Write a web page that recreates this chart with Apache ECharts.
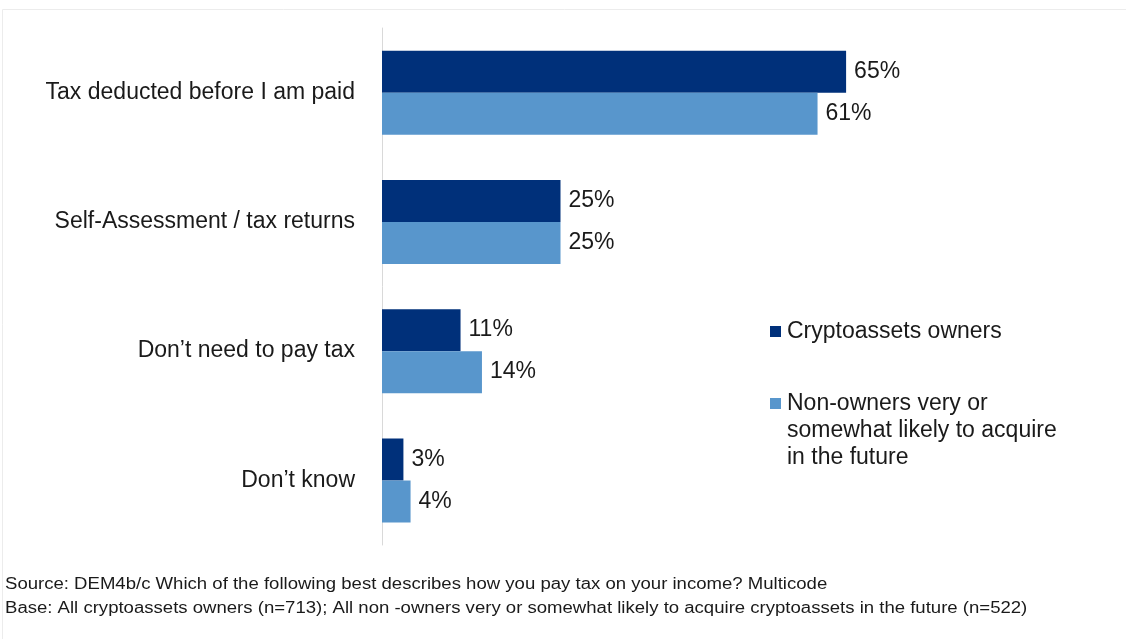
<!DOCTYPE html>
<html>
<head>
<meta charset="utf-8">
<script src="https://cdn.jsdelivr.net/npm/echarts@6/dist/echarts.min.js"></script>
<style>
  html, body { margin: 0; padding: 0; background: #ffffff; }
  #chart { width: 1126px; height: 639px; }
</style>
</head>
<body>
<div id="chart"></div>
<script>
// How people pay tax on their income
const categories = [
  'Tax deducted before I am paid',
  'Self-Assessment / tax returns',
  'Don\u2019t need to pay tax',
  'Don\u2019t know'
];
const ownersName = 'Cryptoassets owners';
const nonOwnersName = 'Non-owners very or somewhat likely to acquire in the future';
const ownersValues = [65, 25, 11, 3];
const nonOwnersValues = [61, 25, 14, 4];
const sourceNote = 'Source: DEM4b/c Which of the following best describes how you pay tax on your income? Multicode';
const baseNote = 'Base: All cryptoassets owners (n=713); All non -owners very or somewhat likely to acquire cryptoassets in the future (n=522)';

const FONT = '"Liberation Sans", Arial, sans-serif';
const DARK = '#00307a';
const LIGHT = '#5896cc';
const TEXT = '#1a1a1a';

const chart = echarts.init(document.getElementById('chart'));

const valueLabel = {
  show: true,
  position: 'right',
  distance: 8,
  formatter: '{c}%',
  color: TEXT,
  fontFamily: FONT,
  fontSize: 23
};

// Shared legend look; the wrapped entry gets blank lead lines so its
// swatch sits beside the first line of text.
const legendBase = {
  orient: 'vertical',
  left: 770,
  padding: 0,
  itemGap: 0,
  itemWidth: 11,
  itemHeight: 11,
  icon: 'rect',
  selectedMode: false,
  textStyle: { color: TEXT, fontFamily: FONT, fontSize: 23, lineHeight: 27, padding: [0, 0, 0, 1] }
};

chart.setOption({
  animation: false,
  backgroundColor: '#ffffff',
  grid: { left: 382, top: 28, width: 714, height: 517, containLabel: false },
  xAxis: {
    type: 'value',
    min: 0,
    max: 100,
    show: false
  },
  yAxis: {
    type: 'category',
    data: categories,
    inverse: true,
    axisLine: { show: true, lineStyle: { color: '#d9d9d9', width: 1 } },
    axisTick: { show: false },
    axisLabel: { margin: 27, color: TEXT, fontFamily: FONT, fontSize: 23 },
    splitLine: { show: false }
  },
  legend: [
    Object.assign({}, legendBase, {
      top: 318,
      data: [ownersName]
    }),
    Object.assign({}, legendBase, {
      top: 336,
      data: [nonOwnersName],
      formatter: function () {
        return '\n\nNon-owners very or\nsomewhat likely to acquire\nin the future';
      }
    })
  ],
  graphic: [
    {
      type: 'rect',
      shape: { x: 2.5, y: 9.5, width: 1200, height: 700 },
      style: { fill: 'none', stroke: '#ececec', lineWidth: 1 },
      silent: true
    },
    {
      type: 'text',
      x: 5,
      y: 577,
      scaleX: 1.16,
      style: { text: sourceNote, fill: TEXT, font: '16px "Liberation Sans", Arial, sans-serif' }
    },
    {
      type: 'text',
      x: 5,
      y: 601,
      scaleX: 1.16,
      style: { text: baseNote, fill: TEXT, font: '16px "Liberation Sans", Arial, sans-serif' }
    }
  ],
  series: [
    {
      name: ownersName,
      type: 'bar',
      data: ownersValues,
      barWidth: 42,
      barGap: '0%',
      itemStyle: { color: DARK },
      label: valueLabel
    },
    {
      name: nonOwnersName,
      type: 'bar',
      data: nonOwnersValues,
      barWidth: 42,
      barGap: '0%',
      itemStyle: { color: LIGHT },
      label: valueLabel
    }
  ]
});
</script>
</body>
</html>
